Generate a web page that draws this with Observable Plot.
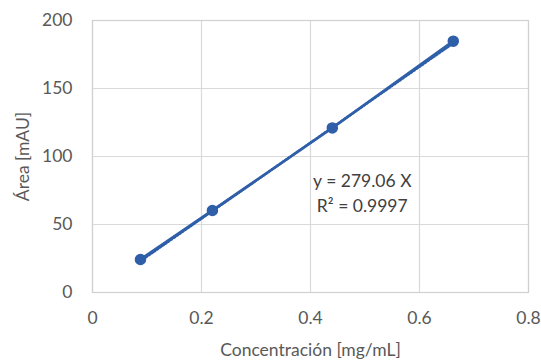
<!DOCTYPE html>
<html>
<head>
<meta charset="utf-8">
<script src="https://cdn.jsdelivr.net/npm/d3@7"></script>
<script src="https://cdn.jsdelivr.net/npm/@observablehq/plot@0.6"></script>
<style>
  html, body { margin: 0; padding: 0; background: #fff; }
</style>
</head>
<body>
<div id="chart"></div>
<script>
const concentracion = [0.088, 0.22, 0.44, 0.662];
const area = [24.3, 60.3, 121, 184.8];
const slope = 279.06;
const r2 = 0.9997;
const xTicks = [0, 0.2, 0.4, 0.6, 0.8];
const yTicks = [0, 50, 100, 150, 200];
const eqLines = ["y = 279.06 X", "R² = 0.9997"];

const points = concentracion.map((c, i) => ({x: c, y: area[i]}));
const xMin = d3.min(concentracion), xMax = d3.max(concentracion);
const trend = [{x: xMin, y: slope * xMin}, {x: xMax, y: slope * xMax}];
const eqPos = [{x: 0.495, y: 81.5, text: eqLines[0]}, {x: 0.495, y: 63, text: eqLines[1]}];

const color = "#2e5fa8";
const FS = 17.5;

const chart = Plot.plot({
  width: 541,
  height: 362,
  marginLeft: 92,
  marginRight: 13,
  marginTop: 20,
  marginBottom: 70,
  style: {fontFamily: "Lato, 'Open Sans', sans-serif", fontSize: FS + "px", color: "#595959", background: "#fff"},
  x: {domain: [0, 0.8]},
  y: {domain: [0, 200]},
  marks: [
    Plot.gridX(xTicks, {stroke: "#d9d9d9", strokeOpacity: 1, strokeWidth: 1.2}),
    Plot.gridY(yTicks, {stroke: "#d9d9d9", strokeOpacity: 1, strokeWidth: 1.2}),
    Plot.frame({stroke: "#d0d0d0", strokeWidth: 1.2}),
    Plot.axisX(xTicks, {tickSize: 0, tickPadding: 19, tickFormat: d => String(d), label: "Concentración [mg/mL]", labelAnchor: "center", labelArrow: "none", labelOffset: 63, fontSize: FS}),
    Plot.axisY(yTicks, {tickSize: 0, tickPadding: 20, label: "Área [mAU]", labelAnchor: "center", labelArrow: "none", labelOffset: 76, fontSize: FS}),
    Plot.line(trend, {x: "x", y: "y", stroke: color, strokeWidth: 2.5, strokeDasharray: "1.2 2.2", dy: 2}),
    Plot.line(points, {x: "x", y: "y", stroke: color, strokeWidth: 2.8}),
    Plot.dot(points, {x: "x", y: "y", r: 5, fill: color, stroke: color}),
    Plot.text(eqPos, {x: "x", y: "y", text: "text", fill: "#404040", fontSize: FS, textAnchor: "middle"})
  ]
});
document.getElementById("chart").appendChild(chart);
</script>
</body>
</html>
